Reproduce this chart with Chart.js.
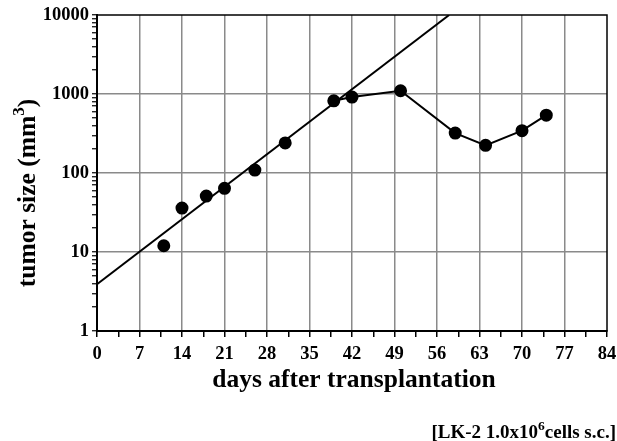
<!DOCTYPE html>
<html lang="en">
<head>
  <meta charset="UTF-8" />
  <title>Tumor size</title>
  <script src="https://cdn.jsdelivr.net/npm/chart.js"></script>
  <style>
    body { margin: 0; background: #fff; }
    #wrap { width: 617px; height: 441px; }
  </style>
</head>
<body>
  <div id="wrap"><canvas id="tumorChart" width="617" height="441"></canvas></div>

  <script>
    // measured values
    const days = [11, 14, 18, 21, 26, 31, 39, 42, 50, 59, 64, 70, 74];
    const sizes = [12, 36, 51, 64, 109, 240, 820, 915, 1100, 320, 224, 343, 540];
    const firstJoined = 6; // line joins points from day 39 on

    // fitted growth line (two end points)
    const fitDays = [0, 58];
    const fitSizes = [3.9, 10000];

    const xTicks = [0, 7, 14, 21, 28, 35, 42, 49, 56, 63, 70, 77, 84];
    const yTicks = [1, 10, 100, 1000, 10000];

    const FONT = '"Liberation Serif", "Times New Roman", serif';

    const toXY = (xs, ys) => xs.map((x, i) => ({ x: x, y: ys[i] }));

    const isMajorY = v => yTicks.includes(v);
    const isMajorX = v => xTicks.includes(v);

    // draw a run of [text, size, raise] pieces starting at x
    function runWidth(ctx, parts) {
      let w = 0;
      parts.forEach(p => {
        ctx.font = 'bold ' + p[1] + 'px ' + FONT;
        w += ctx.measureText(p[0]).width;
      });
      return w;
    }
    function drawRun(ctx, parts, x, y) {
      ctx.textAlign = 'left';
      parts.forEach(p => {
        ctx.font = 'bold ' + p[1] + 'px ' + FONT;
        ctx.fillText(p[0], x, y - p[2]);
        x += ctx.measureText(p[0]).width;
      });
    }

    // extra texts: axis titles with superscripts and footnote, plus the frame
    const decor = {
      id: 'decor',
      afterDraw(chart) {
        const ctx = chart.ctx;
        const a = chart.chartArea;
        ctx.save();
        ctx.strokeStyle = '#000';
        ctx.lineWidth = 1.5;
        ctx.strokeRect(a.left, a.top, a.right - a.left, a.bottom - a.top);

        ctx.fillStyle = '#000';
        ctx.textBaseline = 'alphabetic';

        // x title
        ctx.font = 'bold 25.5px ' + FONT;
        ctx.textAlign = 'center';
        ctx.fillText('days after transplantation', 354, 387);

        // y title, rotated
        ctx.save();
        ctx.translate(35, 193);
        ctx.rotate(-Math.PI / 2);
        const yParts = [['tumor size (mm', 25.5, 0], ['3', 17, 11], [')', 25.5, 0]];
        drawRun(ctx, yParts, -runWidth(ctx, yParts) / 2, 0);
        ctx.restore();

        // footnote
        const fParts = [['[LK-2 1.0x10', 19, 0], ['6', 13.5, 8], ['cells s.c.]', 19, 0]];
        drawRun(ctx, fParts, 616 - runWidth(ctx, fParts), 438);
        ctx.restore();
      }
    };

    const ctx = document.getElementById('tumorChart').getContext('2d');
    new Chart(ctx, {
      type: 'scatter',
      data: {
        datasets: [
          {
            label: 'tumor size',
            data: toXY(days, sizes),
            showLine: true,
            borderColor: '#000',
            borderWidth: 2,
            backgroundColor: '#000',
            pointRadius: 5.5,
            pointHoverRadius: 5.5,
            segment: {
              borderColor: c => c.p0DataIndex < firstJoined ? 'rgba(0,0,0,0)' : '#000'
            }
          },
          {
            label: 'fit',
            data: toXY(fitDays, fitSizes),
            showLine: true,
            borderColor: '#000',
            borderWidth: 2,
            pointRadius: 0
          }
        ]
      },
      options: {
        responsive: false,
        animation: false,
        layout: { padding: { top: 15, right: 0, left: 0, bottom: 0 } },
        plugins: {
          legend: { display: false },
          tooltip: { enabled: false }
        },
        scales: {
          x: {
            type: 'linear',
            min: 0,
            max: 84,
            afterBuildTicks: s => {
              const t = [];
              for (let v = 0; v <= 84; v += 3.5) t.push({ value: v });
              s.ticks = t;
            },
            afterFit: s => { s.height = 110; s.paddingRight = 10; },
            ticks: {
              autoSkip: false,
              maxRotation: 0,
              padding: 6,
              color: '#000',
              font: { family: FONT, size: 18.5, weight: 'bold' },
              callback: v => isMajorX(v) ? String(v) : ''
            },
            grid: {
              color: c => (c.tick && isMajorX(c.tick.value) && c.tick.value !== 0 && c.tick.value !== 84) ? '#8a8a8a' : 'rgba(0,0,0,0)',
              lineWidth: 1.5,
              borderDash: [1, 1],
              tickColor: '#000',
              tickLength: 6,
              tickWidth: 1.5,
              drawTicks: true
            },
            border: { display: true, color: '#000', width: 2 }
          },
          y: {
            type: 'logarithmic',
            min: 1,
            max: 10000,
            afterBuildTicks: s => {
              const t = [];
              for (let d = 1; d < 10000; d *= 10) {
                for (let m = 1; m < 10; m++) t.push({ value: d * m });
              }
              t.push({ value: 10000 });
              s.ticks = t;
            },
            afterFit: s => { s.width = 97; },
            ticks: {
              autoSkip: false,
              padding: 3,
              color: '#000',
              font: { family: FONT, size: 18.5, weight: 'bold' },
              callback: v => isMajorY(v) ? String(v) : ''
            },
            grid: {
              color: c => (c.tick && isMajorY(c.tick.value) && c.tick.value !== 1 && c.tick.value !== 10000) ? '#8a8a8a' : 'rgba(0,0,0,0)',
              lineWidth: 1.5,
              borderDash: [1, 1],
              tickColor: '#000',
              tickLength: 5,
              tickWidth: 1.2
            },
            border: { display: true, color: '#000', width: 2 }
          }
        }
      },
      plugins: [decor]
    });
  </script>
</body>
</html>
